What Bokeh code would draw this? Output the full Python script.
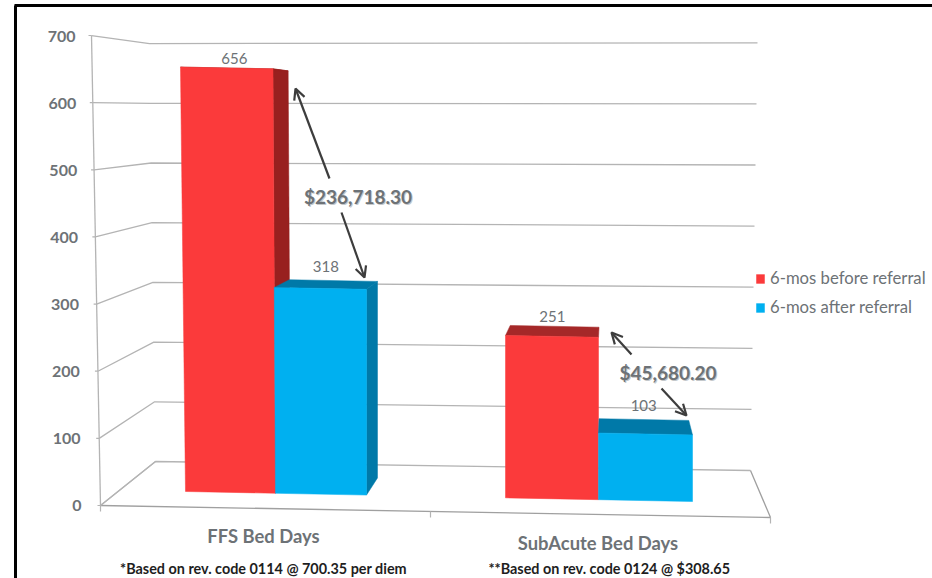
from bokeh.plotting import figure
from bokeh.models import Range1d, Arrow, OpenHead, Legend, LegendItem
from bokeh.core.properties import value
from bokeh.embed import file_html
from bokeh.resources import INLINE

# Bed days per category
categories = ["FFS Bed Days", "SubAcute Bed Days"]
series_names = ["6-mos before referral", "6-mos after referral"]
before_referral = [656, 251]
after_referral = [318, 103]
savings = ["$236,718.30", "$45,680.20"]
footnotes = ["*Based on rev. code 0114 @ 700.35 per diem", "**Based on rev. code 0124 @  $308.65"]
tick_values = [0, 100, 200, 300, 400, 500, 600, 700]

FONT = value("Lato")
GREY = "#6d7276"
GRID = "#b4b4b4"
RED, RED_DARK, RED_TOP = "#fb3a3b", "#98201f", "#a52828"
BLUE, BLUE_DARK = "#00b0f0", "#0079a8"

p = figure(width=932, height=578, output_backend="svg", toolbar_location=None,
           x_range=Range1d(0, 932), y_range=Range1d(578, 0), min_border=0,
           outline_line_color=None, background_fill_color="white", border_fill_color="white")
p.axis.visible = False
p.grid.visible = False


# Projection of the 3D scene onto the page
VP_X, VP_Y, DEPTH = 610.0, 113.0, 0.045
BAR_SCALE = 0.647


def base_y(x):
    return 491 + (x - 185) * 0.0198


def slant(x, v):
    return max(0.0, 366 - x) / 181 * 5 / 423 * v * BAR_SCALE


def front(x, v):
    return x - slant(x, v), base_y(x) - v * BAR_SCALE


def back(pt):
    return pt[0] + (VP_X - pt[0]) * DEPTH, pt[1] + (VP_Y - pt[1]) * DEPTH


def wall_front(v):
    return 100 - v * 9 / 700, 505 - v * 0.6714


def wall_left(v):
    return 155 - v * 6 / 700, 461 - v * 0.597


def wall_right(v):
    return 750 + v * 7 / 700, 470 - v * 0.611


def quad(renderer_pts, color):
    xs = [pt[0] for pt in renderer_pts]
    ys = [pt[1] for pt in renderer_pts]
    return p.patch(xs, ys, fill_color=color, line_color=color, line_width=0.5)


# Frame around the page
p.line([15, 15], [578, 5], line_color="black", line_width=3)
p.line([14, 932], [5, 5], line_color="black", line_width=3)

# Wall gridlines and value labels
for v in tick_values:
    pts = [wall_front(v), wall_left(v), wall_right(v)]
    p.line([pt[0] for pt in pts], [pt[1] for pt in pts], line_color=GRID, line_width=1.3)
    fx, fy = wall_front(v)
    p.line([fx - 3, fx], [fy, fy], line_color=GRID, line_width=1.2)
    p.text([81 - v * 6 / 700], [504.5 - v * 0.669], text=[str(v)], text_align="right", text_baseline="middle",
           text_font=FONT, text_font_size="16px", text_font_style="bold", text_color=GREY)

# Wall edge and floor
top, bottom = wall_front(tick_values[-1]), wall_front(tick_values[0])
p.line([top[0], bottom[0]], [top[1], bottom[1]], line_color=GRID, line_width=1.3)
floor_left, floor_right = wall_left(0), wall_right(0)
p.line([bottom[0], 770, floor_right[0]], [bottom[1], 517, floor_right[1]], line_color="#a0a0a0", line_width=1.3)
p.line([bottom[0], floor_left[0]], [bottom[1], floor_left[1]], line_color=GRID, line_width=1.3)
for tx, ty in [(bottom[0], bottom[1]), (430, 511), (770, 517)]:
    p.line([tx, tx], [ty, ty + 6], line_color=GRID, line_width=1.2)

# Bars: (left, divider, right) on the floor line for each category
edges = [(185, 275, 366), (505, 598, 692)]
red_render = blue_render = None
for i, (xl, xm, xr) in enumerate(edges):
    b, a = before_referral[i], after_referral[i]

    # Side and top faces of the first bar
    rl, rr = front(xl, b), front(xm, b)
    if i == 0:
        rr_base = front(xm, 0)
        quad([rr, back(rr), back(rr_base), rr_base], RED_DARK)
    quad([rl, back(rl), back(rr), rr], RED_DARK if i == 0 else RED_TOP)
    red_render = quad([rl, rr, front(xm, 0), front(xl, 0)], RED)

    # Side and top faces of the second bar
    al, ar = front(xm, a), front(xr, a)
    if xr < VP_X:
        quad([ar, back(ar), back(front(xr, 0)), front(xr, 0)], BLUE_DARK)
    quad([al, back(al), back(ar), ar], BLUE_DARK)
    blue_render = quad([al, ar, front(xr, 0), front(xm, 0)], BLUE)

    # Value labels sit over the middle of each top face
    for v, x0, x1, gap in ((b, xl, xm, 9), (a, xm, xr, 13)):
        fl, fr = front(x0, v), front(x1, v)
        bl, br = back(fl), back(fr)
        cx = (fl[0] + fr[0] + bl[0] + br[0]) / 4
        cy = min(fl[1], bl[1])
        p.text([cx - 1], [cy - gap], text=[str(v)], text_align="center", text_baseline="middle",
               text_font=FONT, text_font_size="15px", text_color=GREY)

# Arrows spanning each bar pair's difference, broken by the savings label
INK = "#3d3d3d"
arrow_paths = [((329, 178), (295, 88)), ((341, 212), (364, 277)),
               ((631, 354), (611, 332)), ((661, 388), (686, 415))]
for (x0, y0), (x1, y1) in arrow_paths:
    p.add_layout(Arrow(end=OpenHead(size=11, line_width=2.2, line_color=INK),
                       x_start=x0, y_start=y0, x_end=x1, y_end=y1,
                       line_color=INK, line_width=2.2))

label_pos = [(357.5, 196), (667.5, 372)]
for s, (lx, ly) in zip(savings, label_pos):
    p.text([lx + 1], [ly + 1], text=[s], text_align="center", text_baseline="middle",
           text_font=FONT, text_font_size="19px", text_font_style="bold", text_color="#c4c8cb")
    p.text([lx], [ly], text=[s], text_align="center", text_baseline="middle",
           text_font=FONT, text_font_size="19px", text_font_style="bold", text_color=GREY)

# Category labels and footnotes
for c, (cx, cy) in zip(categories, [(263, 535), (597.5, 542)]):
    p.text([cx], [cy], text=[c], text_align="center", text_baseline="middle",
           text_font=FONT, text_font_size="18.4px", text_font_style="bold", text_color=GREY)
for f, (fx, fy) in zip(footnotes, [(263, 568), (610.5, 568)]):
    p.text([fx], [fy], text=[f], text_align="center", text_baseline="middle",
           text_font=FONT, text_font_size="14.4px", text_font_style="bold", text_color="#1e1e1e")

legend = Legend(items=[LegendItem(label=series_names[0], renderers=[red_render]),
                       LegendItem(label=series_names[1], renderers=[blue_render])],
                location=(755, 578 - 317), orientation="vertical",
                background_fill_alpha=0, border_line_alpha=0, padding=0, margin=0, spacing=9,
                glyph_width=10, glyph_height=11, label_standoff=5, label_height=18,
                label_text_font="Lato", label_text_font_size="16.7px", label_text_color=GREY)
p.add_layout(legend, "center")

open("out.html", "w").write(file_html(p, INLINE))
